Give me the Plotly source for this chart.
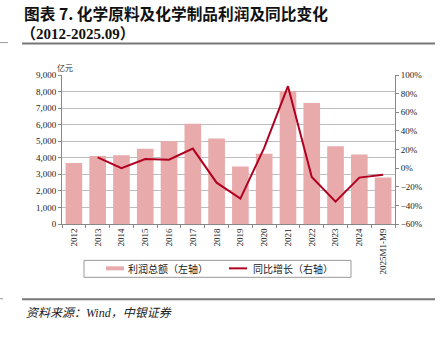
import plotly.graph_objects as go

categories = ["2012", "2013", "2014", "2015", "2016", "2017", "2018", "2019",
              "2020", "2021", "2022", "2023", "2024", "2025M1-M9"]
profit = [3680, 4100, 4150, 4550, 5000, 6050, 5160, 3470, 4250, 8030, 7310, 4700, 4200, 2810]
yoy = [None, 11.5, 0.0, 9.7, 9.0, 21.0, -15.6, -32.7, 21.8, 88.0, -9.5, -36.0, -10.2, -7.0]
series_names = ["利润总额（左轴）", "同比增长（右轴）"]

SERIF = "Liberation Serif, Noto Serif CJK SC, Noto Sans CJK SC"
CJK = "Noto Sans CJK SC, Liberation Serif"
BAR_COLOR = "#E8AAAA"
LINE_COLOR = "#B00020"

L, R, T, B = 62, 395, 74.5, 224.0
W, H = 441, 337
def px(x):
    return (x - L) / (R - L)
def py(y):
    return (B - y) / (B - T)

fig = go.Figure()
fig.add_trace(go.Bar(x=categories, y=profit, name=series_names[0],
                     marker=dict(color=BAR_COLOR, line=dict(width=0)), yaxis="y"))
fig.add_trace(go.Scatter(x=categories, y=yoy, name=series_names[1], mode="lines",
                         line=dict(color=LINE_COLOR, width=2), yaxis="y2",
                         connectgaps=False))

fig.update_layout(
    width=W, height=H,
    margin=dict(l=L, r=W - R, t=T, b=H - B),
    paper_bgcolor="white", plot_bgcolor="white",
    font=dict(family=SERIF, size=9, color="#222222"),
    bargap=0.3,
    showlegend=False,
    xaxis=dict(type="category", tickangle=-90, showline=True, linecolor="#888888",
               ticks="outside", ticklen=3, tickcolor="#888888", tickson="boundaries",
               showgrid=False, tickfont=dict(family=SERIF, size=9)),
    yaxis=dict(range=[0, 9000], dtick=1000, tickformat=",", showline=True,
               linecolor="#888888", ticks="outside", ticklen=3, tickcolor="#888888",
               showgrid=True, gridcolor="#BDBDBD", gridwidth=1, zeroline=False,
               tickfont=dict(family=SERIF, size=9)),
    yaxis2=dict(range=[-60, 100], dtick=20, ticksuffix="%", overlaying="y", side="right",
                showline=True, linecolor="#888888", ticks="outside", ticklen=3,
                tickcolor="#888888", showgrid=False, zeroline=False,
                tickfont=dict(family=SERIF, size=9)),
)

ann = [
    dict(text="<b>图表 7. 化学原料及化学制品利润及同比变化</b>", x=px(22), y=py(13),
         font=dict(family=CJK, size=15.7, color="#111111")),
    dict(text="<b>（2012-2025.09）</b>", x=px(19), y=py(33),
         font=dict(family="Liberation Serif, Noto Sans CJK SC", size=15, color="#111111")),
    dict(text="亿元", x=px(55), y=py(67), font=dict(family=CJK, size=8, color="#333333")),
    dict(text="<i>资料来源：Wind，中银证券</i>", x=px(24), y=py(313),
         font=dict(family="Liberation Serif, Noto Sans CJK SC", size=12, color="#222222")),
    # legend texts
    dict(text=series_names[0], x=px(126), y=py(269),
         font=dict(family=CJK, size=10, color="#222222")),
    dict(text=series_names[1], x=px(251), y=py(269),
         font=dict(family=CJK, size=10, color="#222222")),
]
for a in ann:
    fig.add_annotation(xref="paper", yref="paper", xanchor="left", yanchor="middle",
                       showarrow=False, **a)

shapes = [
    (22, 435, 43, "#777777", 2),
    (22, 435, 299.5, "#777777", 2),
    (0, 8, 42, "#999999", 1),
    (0, 3, 299, "#999999", 1),
]
for x0, x1, yy, c, w in shapes:
    fig.add_shape(type="line", xref="paper", yref="paper", x0=px(x0), x1=px(x1),
                  y0=py(yy), y1=py(yy), line=dict(color=c, width=w))

# legend box and swatches
fig.add_shape(type="rect", xref="paper", yref="paper", x0=px(84), x1=px(351),
              y0=py(260.5), y1=py(277.5), line=dict(color="#999999", width=1),
              fillcolor="rgba(0,0,0,0)")
fig.add_shape(type="rect", xref="paper", yref="paper", x0=px(106), x1=px(124),
              y0=py(266.5), y1=py(270.5), line=dict(width=0), fillcolor=BAR_COLOR)
fig.add_shape(type="line", xref="paper", yref="paper", x0=px(229), x1=px(247),
              y0=py(268.5), y1=py(268.5), line=dict(color=LINE_COLOR, width=2))

fig.write_html("out.html")
